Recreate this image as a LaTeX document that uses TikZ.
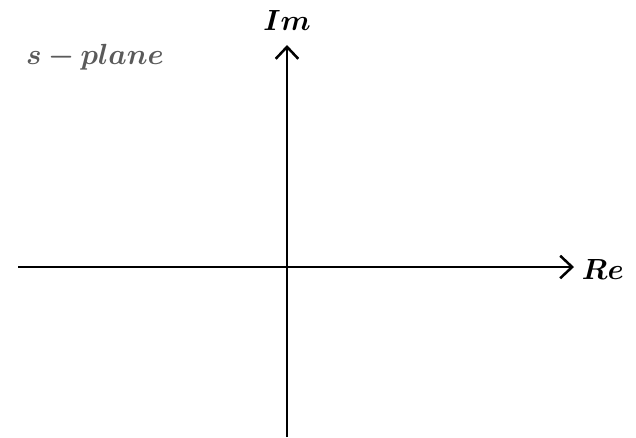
\documentclass[tikz,border=0pt]{standalone}
\usepackage{bm}
\usetikzlibrary{arrows.meta}
\definecolor{planegray}{RGB}{90,90,90}
\tikzset{
  axis/.style={line width=2pt,-{Straight Barb[length=8.5pt,width=16pt,line width=1.8pt]}},
  axlabel/.style={font=\fontsize{21.5}{25}\selectfont}
}
\begin{document}
\begin{tikzpicture}[x=0.025cm,y=-0.025cm]
		\useasboundingbox (0,0) rectangle (636,437);
		%Axes of the s-plane
		\coordinate (reL) at (18,267);
		\coordinate (reR) at (574,267);
		\coordinate (imB) at (287,437);
		\coordinate (imT) at (287,45);
		\draw[axis] (reL)--(reR);
		\draw[axis] (imB)--(imT);
		\node[axlabel,anchor=west] (re) at (577,269) {$\bm{Re}$};
		\node[axlabel] (im) at (287,20) {$\bm{Im}$};
		\node[axlabel,text=planegray] (plane) at (95,57) {$\bm{s-plane}$};
		\end{tikzpicture}
\end{document}
